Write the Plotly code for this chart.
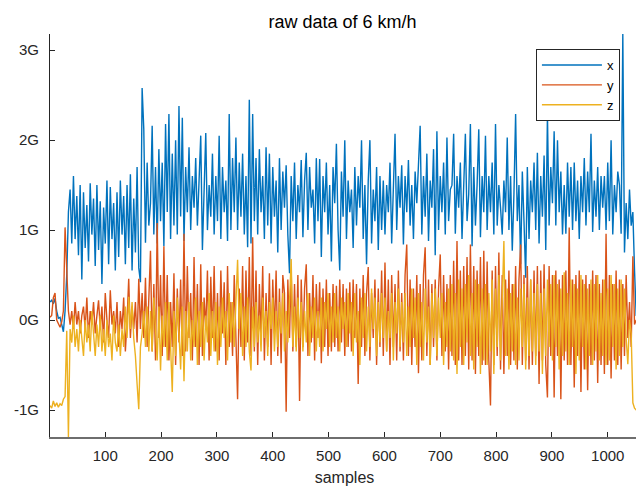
import plotly.graph_objects as go

# sample index (every 3rd sample of the recording)
samples = list(range(1, 1057, 3))

x_vals = [
    0.2, 0.22, 0.18, 0.24, 0.1, 0.02, 0.03, -0.05, -0.13, 0.1,
    0.5, 1.2, 1.45, 0.85, 1.6, 0.9, 1.38, 0.72, 1.5, 0.45,
    1.42, 0.8, 1.28, 0.65, 1.52, 0.95, 1.35, 0.6, 1.5, 0.78,
    1.32, 0.4, 1.25, 0.85, 1.55, 0.62, 1.48, 0.9, 1.3, 0.55,
    1.42, 0.7, 1.55, 0.95, 1.38, 0.62, 1.5, 0.8, 1.62, 0.55,
    1.35, 0.75, 1.7, 0.58, 0.42, 2.58, 2.12, 0.86, 1.75, 1.05,
    1.3, 2.16, 0.95, 1.7, 0.85, 1.9, 1.1, 1.75, 0.82, 2.18,
    1.2, 2.29, 0.9, 1.85, 1.05, 2.0, 0.95, 2.38, 1.15, 2.25,
    0.88, 1.7, 1.2, 1.92, 1.0, 1.6, 1.25, 1.8, 1.05, 1.55,
    2.05, 0.78, 1.6, 2.08, 1.0, 1.5, 1.15, 1.85, 0.95, 1.6,
    1.1, 2.05, 0.9, 1.7, 1.2, 1.55, 0.88, 2.29, 1.0, 1.8,
    1.2, 2.03, 1.0, 1.75, 1.15, 1.85, 0.95, 1.6, 0.81, 2.45,
    0.85, 2.29, 1.1, 1.8, 0.95, 1.9, 1.2, 1.6, 0.9, 1.92,
    1.05, 1.85, 0.85, 1.7, 1.15, 1.55, 0.75, 1.8, 1.0, 1.65,
    1.25, 1.72, 0.95, 0.52, 1.6, 1.1, 1.75, 0.9, 1.5, 1.2,
    1.78, 0.92, 1.55, 1.86, 1.0, 1.7, 1.25, 1.45, 0.85, 1.8,
    1.1, 1.79, 0.7, 1.6, 1.2, 1.75, 0.95, 1.5, 0.65, 1.7,
    1.3, 1.96, 1.0, 0.55, 1.65, 1.15, 2.0, 0.9, 1.55, 1.2,
    1.45, 0.8, 1.7, 1.05, 1.6, 1.25, 2.0, 0.9, 1.5, 0.62,
    1.55, 2.0, 0.85, 1.45, 1.1, 1.7, 0.78, 1.6, 1.0, 1.55,
    0.95, 1.5, 1.2, 1.75, 0.85, 1.45, 2.07, 1.0, 1.6, 1.25,
    1.72, 0.84, 1.6, 1.2, 1.78, 1.05, 1.5, 0.9, 1.65, 1.3,
    1.8, 2.16, 0.95, 1.6, 1.15, 1.85, 0.88, 1.55, 1.25, 1.9,
    0.72, 2.1, 1.0, 1.6, 1.2, 1.75, 0.95, 2.03, 1.1, 1.45,
    1.5, 2.07, 0.96, 1.6, 1.25, 1.75, 0.9, 1.55, 2.07, 1.1,
    1.4, 2.18, 0.82, 1.7, 1.05, 1.5, 2.12, 0.92, 1.6, 1.2,
    2.05, 1.0, 1.6, 1.2, 1.75, 0.95, 2.18, 1.05, 1.5, 1.25,
    0.95, 1.55, 1.2, 2.03, 1.0, 1.6, 0.77, 1.4, 2.29, 1.1,
    1.5, 0.62, 1.65, 1.1, 0.47, 1.7, 0.9, 1.55, 1.2, 1.75,
    1.0, 1.86, 0.85, 1.6, 1.15, 1.83, 0.78, 2.29, 1.05, 1.7,
    1.3, 2.1, 1.05, 2.0, 1.2, 1.65, 0.95, 1.5, 0.96, 1.75,
    1.15, 1.7, 1.0, 1.75, 1.1, 1.55, 0.9, 1.6, 1.2, 1.8,
    1.05, 1.65, 1.2, 2.07, 0.98, 1.55, 1.15, 1.7, 1.0, 1.6,
    1.25, 1.6, 1.0, 1.75, 1.1, 2.0, 0.95, 1.5, 1.2, 1.65,
    1.5, 0.96, 3.18, 0.75, 1.3, 0.9, 1.45, 1.05, 1.2, 0.55,
    0.05, 0.03,
]

y_vals = [
    0.03, 0.05, 0.25, 0.3, 0.0, -0.05, -0.08, -0.02, 0.1, 1.03,
    0.6, 0.1, -0.05, 0.1, -0.1, 0.2, -0.05, 0.1, -0.15, 0.05,
    0.15, -0.1, 0.25, -0.2, 0.1, -0.05, 0.2, -0.15, 0.05, 0.22,
    -0.1, 0.15, -0.25, 0.3, 0.0, -0.2, 0.33, -0.05, 0.1, -0.15,
    0.2, -0.3, 0.1, -0.1, 0.25, -0.35, 0.0, 0.46, -0.2, 0.15,
    -0.1, 0.2, -0.25, 0.46, -0.1, 0.3, -0.2, 0.47, -0.3, 0.2,
    0.77, -0.35, 0.4, -0.45, 1.08, -0.2, 0.5, -0.4, 0.82, -0.3,
    0.5, -0.45, 0.2, -0.3, 0.52, -0.5, 0.35, -0.25, 0.45, -0.4,
    0.96, -0.35, 0.6, -0.2, 0.3, -0.45, 0.7, -0.3, 0.4, -0.5,
    0.62, -0.4, 0.25, -0.1, 0.55, -0.45, 0.48, -0.2, 0.6, -0.35,
    0.3, -0.45, 0.55, -0.15, 0.42, -0.5, 0.6, -0.3, 0.2, -0.4,
    0.5, -0.2, -0.88, 0.35, -0.3, 0.6, -0.45, 0.55, -0.25, 0.7,
    -0.4, 0.92, -0.35, 0.55, -0.5, 0.4, -0.2, 0.6, -0.45, 0.3,
    -0.3, 0.52, -0.5, 0.45, -0.15, 0.55, -0.4, 0.35, -0.48, 0.5,
    0.3, -1.02, 0.45, -0.2, 0.55, -0.35, 0.4, -0.3, 0.5, -0.9,
    0.45, -0.3, 0.35, 0.62, -0.4, 0.3, -0.25, 0.5, -0.45, 0.4,
    -0.2, 0.42, -0.48, 0.35, -0.3, 0.45, -0.4, 0.3, -0.35, 0.4,
    -0.3, 0.38, -0.35, 0.45, -0.25, 0.4, -0.4, 0.35, -0.3, 0.42,
    -0.35, 0.45, -0.2, 0.4, -0.71, 0.35, -0.3, 0.5, -0.4, 0.3,
    0.59, -0.45, 0.3, -0.2, 0.45, -0.5, 0.35, -0.3, 0.55, -0.4,
    0.64, -0.35, 0.45, -0.5, 0.5, -0.3, 0.4, -0.45, 0.55, -0.35,
    0.3, -0.45, 0.5, 0.84, -0.4, 0.45, -0.5, 0.35, -0.3, 0.5,
    -0.59, 0.4, -0.45, 0.5, 0.81, -0.4, 0.45, -0.5, 0.4, -0.3,
    0.45, -0.45, 0.35, 0.73, -0.4, 0.5, -0.35, 0.4, -0.55, 0.5,
    -0.4, 0.66, -0.5, 0.88, -0.45, 0.55, -0.5, 0.6, -0.4, 0.7,
    -0.55, 0.84, -0.45, 0.6, -0.6, 0.55, -0.4, 0.7, -0.5, 0.77,
    -0.5, 0.65, -0.45, -0.95, 0.55, -0.5, 0.6, -0.4, 0.75, -0.55,
    0.5, -0.6, 0.45, -0.4, 0.55, -0.5, 0.4, -0.45, 0.6, -0.55,
    0.45, 0.84, -0.5, 0.5, -0.45, 0.6, -0.55, 0.45, -0.5, 0.55,
    -0.4, 0.6, -0.71, 0.55, -0.45, 0.62, -0.5, -0.86, 0.6, -0.4,
    0.5, -0.86, 0.55, -0.4, 0.45, -0.88, 0.5, -0.45, 0.55, -0.5,
    1.03, -0.5, 0.45, -0.75, 0.5, -0.4, 0.55, -0.8, 0.45, -0.55,
    0.5, -0.78, 0.4, -0.5, 0.55, -0.45, 0.5, -0.7, 0.4, -0.5,
    0.45, -0.6, 0.96, -0.5, 0.5, -0.65, 0.4, -0.45, 0.55, -0.5,
    0.45, -0.55, 0.4, -0.4, 0.5, -0.2, 0.2, -0.3, 0.71, -0.05,
    0.0, -0.08,
]

z_vals = [
    -0.95, -0.98, -0.9, -0.96, -0.92, -0.97, -0.93, -0.95, -0.88, -0.85,
    -0.12, -1.3, -0.1, -0.25, 0.05, -0.3, -0.1, -0.35, 0.0, -0.2,
    -0.4, 0.0, -0.25, -0.05, -0.35, 0.1, -0.2, -0.4, -0.05, -0.3,
    0.05, -0.35, -0.1, -0.4, 0.0, -0.3, -0.15, -0.45, 0.05, -0.25,
    -0.35, -0.05, -0.4, -0.1, -0.3, 0.15, -0.2, 0.26, -0.1, 0.2,
    -0.2, -0.4, -0.71, -0.99, -0.3, -0.15, 0.1, -0.3, 0.15, -0.35,
    0.1, -0.35, 0.25, -0.2, -0.45, 0.15, -0.56, 0.05, -0.3, 0.2,
    -0.45, 0.2, -0.3, -0.8, 0.1, -0.4, 0.25, -0.2, -0.55, 0.15,
    -0.68, 0.1, -0.35, 0.2, -0.45, 0.0, -0.3, 0.25, -0.5, 0.1,
    -0.3, 0.2, -0.45, 0.05, -0.25, 0.3, -0.4, 0.1, -0.35, 0.2,
    -0.5, 0.15, -0.3, 0.25, -0.2, 0.1, -0.45, 0.3, -0.25, 0.2,
    -0.3, 0.2, 0.67, -0.1, 0.3, -0.4, 0.15, -0.3, 0.25, -0.35,
    -0.56, 0.15, -0.3, 0.2, -0.25, 0.05, -0.35, 0.25, -0.2, 0.1,
    -0.4, 0.2, -0.1, 0.25, -0.35, 0.1, -0.3, 0.2, -0.15, 0.3,
    -0.35, 0.1, -0.25, 0.2, 0.68, -0.3, 0.15, -0.35, 0.25, -0.2,
    0.2, -0.35, 0.1, -0.25, 0.3, -0.4, 0.15, -0.2, 0.25, -0.35,
    0.1, -0.3, 0.25, -0.35, 0.2, -0.1, 0.3, -0.3, 0.15, -0.25,
    0.3, -0.2, 0.15, -0.35, 0.25, -0.1, 0.2, -0.3, 0.3, -0.15,
    0.2, -0.4, 0.3, -0.25, 0.1, -0.5, 0.25, -0.2, 0.3, -0.35,
    0.15, -0.3, 0.35, -0.1, 0.25, -0.4, 0.2, -0.25, 0.3, -0.2,
    0.25, -0.35, 0.1, -0.2, 0.3, -0.45, 0.2, -0.15, 0.35, -0.3,
    0.2, -0.25, 0.3, -0.4, 0.15, -0.3, 0.35, -0.2, 0.25, -0.5,
    0.3, -0.3, 0.2, -0.45, 0.35, -0.25, 0.15, -0.5, 0.3, -0.2,
    0.35, -0.4, 0.25, -0.2, 0.3, -0.5, 0.2, -0.3, 0.35, -0.35,
    0.4, -0.45, 0.3, -0.6, 0.45, -0.3, 0.35, -0.5, 0.4, -0.25,
    0.5, -0.4, 0.3, -0.55, 0.45, -0.3, 0.4, -0.6, 0.35, -0.45,
    0.4, -0.5, 0.3, -0.35, 0.45, -0.6, 0.35, -0.3, 0.5, -0.45,
    0.3, 0.88, -0.4, 0.35, -0.55, 0.3, -0.35, 0.4, -0.5, 0.25,
    -0.45, 0.35, -0.3, 0.4, -0.55, 0.25, -0.4, 0.45, -0.35, 0.3,
    -0.5, 0.4, -0.35, 0.3, -0.6, 0.35, -0.4, 0.45, -0.3, 0.4,
    -0.45, 0.5, -0.3, 0.4, -0.55, 0.35, -0.4, 0.53, -0.35, 0.3,
    -0.5, 0.45, -0.3, 0.4, -0.6, 0.35, -0.45, 0.5, -0.3, 0.4,
    -0.55, 0.35, -0.4, 0.45, -0.5, 0.4, -0.35, 0.5, -0.45, 0.3,
    -0.4, 0.45, -0.5, 0.35, -0.45, 0.5, -0.3, 0.4, -0.55, 0.35,
    -0.4, 0.45, -0.3, 0.35, -0.2, -0.49, 0.0, -0.15, -0.92, -0.98,
    -1.0, -0.96,
]

assert len(x_vals) == len(samples) == len(y_vals) == len(z_vals), (
    len(samples), len(x_vals), len(y_vals), len(z_vals))

x_ticks = [100, 200, 300, 400, 500, 600, 700, 800, 900, 1000]
y_ticks = [-1, 0, 1, 2, 3]
y_tick_labels = ["-1G", "0G", "1G", "2G", "3G"]

FONT = "Liberation Sans, Arial, Helvetica, sans-serif"
TXT = "#262626"

fig = go.Figure()
for name, vals, color in [("x", x_vals, "#0072BD"),
                          ("y", y_vals, "#D95319"),
                          ("z", z_vals, "#EDB120")]:
    fig.add_trace(go.Scatter(x=samples, y=vals, mode="lines", name=name,
                             line=dict(color=color, width=1.4)))

# the page body adds an 8 px offset, so the figure is sized to compensate
fig.update_layout(
    width=636, height=478,
    margin=dict(l=42, r=5, t=26, b=49, autoexpand=False),
    paper_bgcolor="white", plot_bgcolor="white",
    font=dict(family=FONT, size=15, color=TXT),
    title=dict(text="raw data of 6 km/h", x=0.4966, xanchor="center",
               xref="paper", yref="container", y=1 - 14 / 478,
               yanchor="middle", automargin=False,
               font=dict(family=FONT, size=18, color="#000000")),
    showlegend=True,
    legend=dict(x=0.825, y=0.9628, xanchor="left", yanchor="top",
                bgcolor="white", bordercolor="#262626", borderwidth=1,
                font=dict(family=FONT, size=13, color="#000000"),
                itemwidth=60, tracegroupgap=0),
)
fig.update_xaxes(range=[1, 1056], tickvals=x_ticks, ticks="inside", ticklen=5,
                 tickcolor=TXT, showline=True, linecolor="#6e6e6e", linewidth=1.5,
                 showgrid=False, zeroline=False, mirror=False, automargin=False,
                 ticklabelstandoff=4,
                 title=dict(text="samples", standoff=12,
                            font=dict(family=FONT, size=16, color=TXT)))
fig.update_yaxes(range=[-1.3, 3.18], tickvals=y_ticks, ticktext=y_tick_labels,
                 ticks="inside", ticklen=5, tickcolor=TXT, showline=True,
                 linecolor="#262626", linewidth=1, showgrid=False,
                 zeroline=False, mirror=False, automargin=False,
                 ticklabelstandoff=7)

fig.write_html("out.html")
